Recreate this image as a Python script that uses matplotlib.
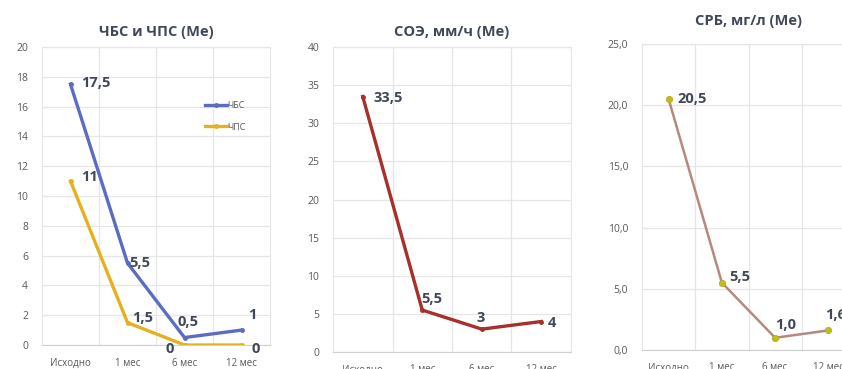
import matplotlib.pyplot as plt
from matplotlib.ticker import FuncFormatter

# Медианы показателей по визитам
periods = ["Исходно", "1 мес", "6 мес", "12 мес"]
chbs = [17.5, 5.5, 0.5, 1]
chps = [11, 1.5, 0, 0]
soe = [33.5, 5.5, 3, 4]
srb = [20.5, 5.5, 1.0, 1.6]

plt.rcParams['font.family'] = ['Open Sans', 'DejaVu Sans']

W, H = 842, 369
fig = plt.figure(figsize=(W / 100, H / 100), dpi=100)

label_color = "#404858"
tick_color = "#595959"
grid_color = "#E6E6E6"


def make_axes(left, top, right, bottom):
    # координаты в пикселях -> доли фигуры
    ax = fig.add_axes([left / W, 1 - bottom / H, (right - left) / W, (bottom - top) / H])
    ax.set_xlim(-0.5, len(periods) - 0.5)
    ax.set_xticks(range(len(periods)))
    ax.set_xticklabels(periods)
    ax.set_xticks([0.5, 1.5, 2.5], minor=True)
    ax.grid(axis="y", color=grid_color, lw=0.9)
    ax.grid(axis="x", which="minor", color=grid_color, lw=0.9)
    ax.tick_params(which="both", length=0)
    ax.tick_params(axis="x", pad=9, labelsize=7, colors=tick_color)
    ax.tick_params(axis="y", pad=10, labelsize=7.5, colors=tick_color)
    for s in ax.spines.values():
        s.set_color(grid_color)
    ax.spines["bottom"].set_color("#D0D0D0")
    ax.set_axisbelow(True)
    return ax


def put_label(ax, x, y, text, dx, dy, ha="left"):
    ax.annotate(text, (x, y), xytext=(dx, dy), textcoords="offset points",
                ha=ha, va="center", fontsize=10.5, fontweight="bold", color=label_color)


def fmt(v):
    return f"{v:g}".replace(".", ",")


# --- ЧБС и ЧПС ---
ax1 = make_axes(42, 47, 270, 345)
ax1.set_ylim(0, 20)
ax1.set_yticks(range(0, 21, 2))
x = range(len(periods))
ax1.plot(x, chbs, color="#5B6DC0", lw=2.4, marker="o", ms=2.5, label="ЧБС")
ax1.plot(x, chps, color="#E3B21E", lw=2.4, marker="o", ms=2.5, label="ЧПС")
ax1.set_title("ЧБС и ЧПС (Ме)", fontsize=10.5, fontweight="bold", color=label_color, pad=8)
ax1.legend(loc="upper left", bbox_to_anchor=(0.68, 0.845), frameon=False, fontsize=6.5,
           handlelength=2.4, handletextpad=0.1, labelspacing=1.35, labelcolor=tick_color)

chbs_off = [(8, 1), (1, 0), (-5, 11), (5, 11)]
chps_off = [(8, 3), (3, 3), (-14, -3), (7, -3)]
for i, v in enumerate(chbs):
    put_label(ax1, i, v, fmt(v), *chbs_off[i])
for i, v in enumerate(chps):
    put_label(ax1, i, v, fmt(v), *chps_off[i])

# --- СОЭ ---
ax2 = make_axes(333, 47, 571, 352)
ax2.set_ylim(0, 40)
ax2.set_yticks(range(0, 41, 5))
ax2.plot(x, soe, color="#A8302A", lw=2.4, marker="o", ms=2.5)
ax2.set_title("СОЭ, мм/ч (Ме)", fontsize=10.5, fontweight="bold", color=label_color, pad=8)
soe_off = [(8, -1), (-1, 8), (-4, 8), (5, -1)]
for i, v in enumerate(soe):
    put_label(ax2, i, v, fmt(v), *soe_off[i])

# --- СРБ ---
ax3 = make_axes(642, 44, 855, 350)
ax3.set_ylim(0, 25)
ax3.set_yticks(range(0, 26, 5))
ax3.yaxis.set_major_formatter(FuncFormatter(lambda v, p: f"{v:.1f}".replace(".", ",")))
ax3.plot(x, srb, color="#B48A80", lw=1.8, marker="o", ms=4.5,
         markerfacecolor="#B5C21C", markeredgecolor="#C9A516", markeredgewidth=0.6)
ax3.set_title("СРБ, мг/л (Ме)", fontsize=10.5, fontweight="bold", color=label_color, pad=14)
srb_off = [(6, 0), (5, 4), (0, 9), (-2, 11)]
for i, v in enumerate(srb):
    put_label(ax3, i, v, f"{v:.1f}".replace(".", ","), *srb_off[i])

fig.savefig("out.png", dpi=100)
